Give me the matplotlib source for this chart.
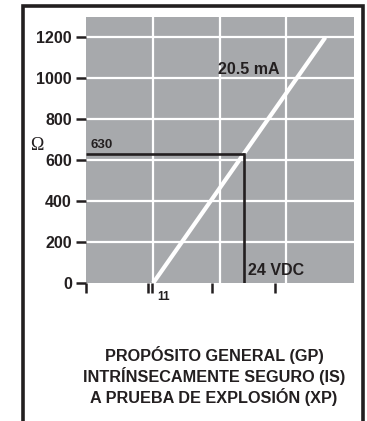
import matplotlib.pyplot as plt
import numpy as np

# load limit: R = (V - 11 V) / 20.5 mA
v_min = 11.0
i_max = 0.0205
r_max = 1200
v_supply = 24
r_supply = 630

r_ticks = [0, 200, 400, 600, 800, 1000, 1200]
r_labels = ["0", "200", "400", "600", "800", "1000", "1200"]
v_ticks = [1.4, 10.3, 10.8, 19.4, 28.4]
v_grid = [11.0, 20.6, 30.0]

footer = ["PROPÓSITO GENERAL (GP)",
          "INTRÍNSECAMENTE SEGURO (IS)",
          "A PRUEBA DE EXPLOSIÓN (XP)"]

ink = "#231f20"
gray = "#a7a9ac"

plt.rcParams['font.family'] = ['Liberation Sans', 'DejaVu Sans']
plt.rcParams['font.weight'] = 'bold'

W, H = 367, 421
fig = plt.figure(figsize=(W / 100, H / 100), dpi=100)
ax = fig.add_axes([86 / W, 1 - 283 / H, 268 / W, 266 / H])
ax.set_facecolor(gray)
for s in ax.spines.values():
    s.set_visible(False)

ax.set_xlim(1.4, 39.7)
ax.set_ylim(0, 1300)

# white grid
for r in r_ticks[1:]:
    ax.axhline(r, color="white", lw=1.6, zorder=1)
for v in v_grid:
    ax.axvline(v, color="white", lw=1.6, zorder=1)

# load line
v_end = v_min + r_max * i_max
ax.plot([v_min, v_end], [0, r_max], color="white", lw=3.0,
        solid_capstyle="butt", zorder=2)

# operating point at 24 VDC
ax.plot([1.4, v_supply], [r_supply, r_supply], color=ink, lw=1.9,
        solid_capstyle="butt", zorder=3, clip_on=False)
ax.plot([v_supply, v_supply], [0, r_supply], color=ink, lw=1.9,
        solid_capstyle="projecting", zorder=3)

ax.text(20.3, 1041, "20.5 mA", fontsize=11.5, color=ink, ha="left",
        va="center", zorder=4)
ax.text(24.6, 59, "24 VDC", fontsize=11.5, color=ink, ha="left",
        va="center", zorder=4)
ax.text(2.1, 674, str(r_supply), fontsize=9.5, color=ink, ha="left",
        va="center", zorder=4)
ax.annotate("11", xy=(v_min, 0), xytext=(3, -6), textcoords="offset points",
            fontsize=8.6, color=ink, ha="left", va="top",
            annotation_clip=False)

ax.set_yticks(r_ticks)
ax.set_yticklabels(r_labels)
ax.set_xticks(v_ticks)
ax.set_xticklabels([])
ax.tick_params(axis="both", direction="out", length=7.2, width=1.8,
               color=ink, labelcolor=ink, labelsize=11.5, pad=3)

fig.text(37 / W, 1 - 145 / H, "Ω", fontsize=13, color=ink,
         family="Liberation Serif", weight="normal", ha="center", va="center")

for i, line in enumerate(footer):
    fig.text(214 / W, 1 - (355 + 21 * i) / H, line, fontsize=11.7,
             color=ink, ha="center", va="center")

# open-bottom frame
fig.add_artist(plt.Line2D([23 / W, 23 / W, 363 / W, 363 / W],
                          [-0.01, 1 - 5.5 / H, 1 - 5.5 / H, -0.01],
                          color=ink, lw=2.6, transform=fig.transFigure,
                          solid_joinstyle="miter"))

fig.savefig("out.png", dpi=100)
